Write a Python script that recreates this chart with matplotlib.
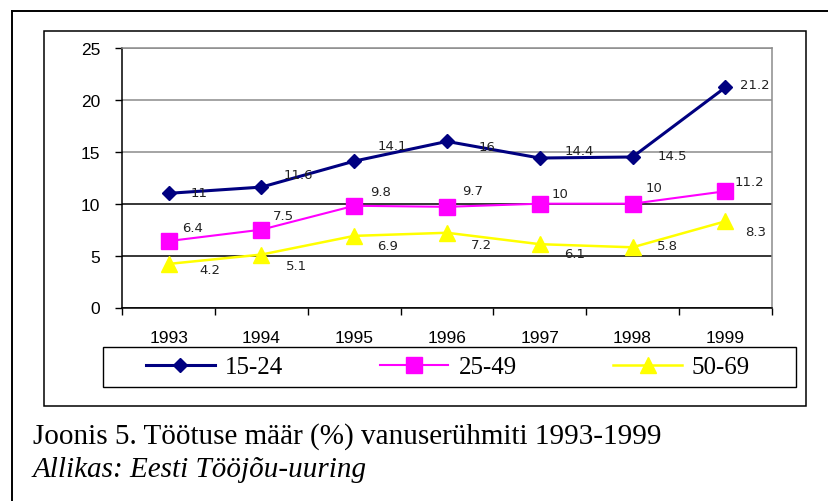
import matplotlib
matplotlib.use("Agg")
import matplotlib.pyplot as plt
from matplotlib.patches import Rectangle
from matplotlib.lines import Line2D

years = ['1993', '1994', '1995', '1996', '1997', '1998', '1999']
s1524 = [11, 11.6, 14.1, 16, 14.4, 14.5, 21.2]
s2549 = [6.4, 7.5, 9.8, 9.7, 10, 10, 11.2]
s5069 = [4.2, 5.1, 6.9, 7.2, 6.1, 5.8, 8.3]
names = ['15-24', '25-49', '50-69']

# label offsets (pixels), picked by eye
off1 = [(30, 1), (37, 13), (38, 16), (40, -5), (39, 8), (40, 1), (29, 3)]
off2 = [(24, 14), (22, 14), (26, 14), (26, 16), (20, 10), (21, 16), (24, 10)]
off3 = [(41, -6), (35, -11), (33, -10), (34, -12), (35, -9), (35, 2), (30, -10)]

W, H = 829, 502
fig = plt.figure(figsize=(W / 100, H / 100), dpi=100)

# frames around the chart
fig.add_artist(Line2D([11.7 / W, 1.0], [1 - 11.7 / H, 1 - 11.7 / H], color='black', lw=1.4,
                      transform=fig.transFigure))
fig.add_artist(Line2D([11.7 / W, 11.7 / W], [0.0, 1 - 11.7 / H], color='black', lw=1.4,
                      transform=fig.transFigure))
fig.add_artist(Rectangle((44.3 / W, 1 - 407 / H), (806 - 44.3) / W, (407 - 32.3) / H,
                         fill=False, edgecolor='black', lw=1.1, transform=fig.transFigure))
# legend box
fig.add_artist(Rectangle((103 / W, 1 - 388 / H), (796 - 103) / W, 40 / H,
                         fill=False, edgecolor='black', lw=1.0, transform=fig.transFigure))

ax = fig.add_axes([122.3 / W, 1 - 308.5 / H, (771.7 - 122.3) / W, (308.5 - 49) / H])
x = list(range(len(years)))

l1, = ax.plot(x, s1524, color='#000080', lw=2.2, marker='D', ms=7, label=names[0], zorder=4)
l2, = ax.plot(x, s2549, color='#FF00FF', lw=1.5, marker='s', ms=11, label=names[1], zorder=4)
l3, = ax.plot(x, s5069, color='#FFFF00', lw=1.8, marker='^', ms=12, label=names[2], zorder=4)

for vals, offs in [(s1524, off1), (s2549, off2), (s5069, off3)]:
    for i, v in enumerate(vals):
        ax.annotate(f'{v:g}', (i, v), xytext=offs[i], textcoords='offset pixels',
                    ha='center', va='center', fontsize=9.5, color='#222222',
                    family='DejaVu Sans', zorder=5)

ax.set_xlim(-0.5, 6.5)
ax.set_ylim(0, 25)
ax.set_yticks([0, 5, 10, 15, 20, 25])
ax.set_xticks([i - 0.5 for i in range(8)])
ax.set_xticklabels([])
ax.set_xticks(x, minor=True)
ax.set_xticklabels(years, minor=True, family='Liberation Sans', fontsize=12.5)
ax.tick_params(axis='x', which='major', direction='out', length=5, width=1)
ax.tick_params(axis='x', which='minor', length=0, pad=16)
ax.tick_params(axis='y', direction='out', length=5, width=1, pad=11, labelsize=12.5)
for t in ax.get_yticklabels():
    t.set_family('Liberation Sans')

ax.yaxis.grid(True, lw=1.1)
for val, gl in zip(ax.get_yticks(), ax.get_ygridlines()):
    gl.set_color('#8c8c8c' if val >= 15 else 'black')
ax.set_axisbelow(True)

ax.spines['left'].set_color('black')
ax.spines['bottom'].set_color('black')
ax.spines['top'].set_color('#8c8c8c')
ax.spines['right'].set_color('#8c8c8c')
for s in ax.spines.values():
    s.set_linewidth(1.1)

leg = fig.legend(handles=[l1, l2, l3], labels=names, ncol=3, mode='expand',
                 loc='center', bbox_to_anchor=(146 / W, 1 - 388 / H, (750 - 146) / W, 40 / H),
                 prop={'family': 'Liberation Serif', 'size': 18},
                 frameon=False, handlelength=2.75, handletextpad=0.4,
                 borderpad=0, borderaxespad=0)

fig.text(33 / W, 1 - 437 / H, 'Joonis 5. Töötuse määr (%) vanuserühmiti 1993-1999',
         family='Liberation Serif', fontsize=21, ha='left', va='center')
fig.text(33 / W, 1 - 470 / H, 'Allikas: Eesti Tööjõu-uuring',
         family='Liberation Serif', fontsize=21, style='italic', ha='left', va='center')

fig.savefig('out.png', dpi=100)
